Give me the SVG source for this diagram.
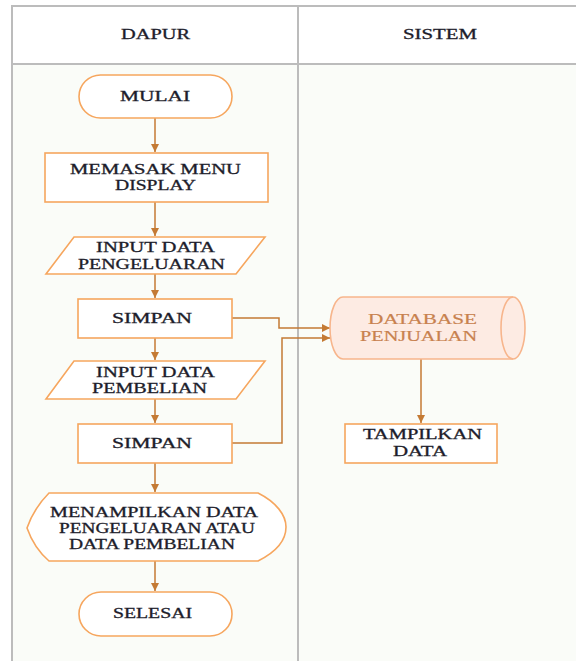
<svg xmlns="http://www.w3.org/2000/svg" width="576" height="661" viewBox="0 0 576 661">
<style>
.t{font-family:"Liberation Serif","Times New Roman",serif;font-size:14px;fill:#1d1d2b;stroke:#1d1d2b;stroke-width:0.3;text-anchor:middle}
.db{fill:#c8814e;stroke:#c8814e;stroke-width:0.2}
.n{fill:#ffffff;stroke:#f6a65e;stroke-width:1.6}
.c{fill:none;stroke:#c47a34;stroke-width:1.5}
.g{stroke:#bcbcbc;stroke-width:2;fill:none}
</style>
<defs>
<marker id="ah" viewBox="0 0 10 10" refX="10" refY="5" markerWidth="5.5" markerHeight="5.5" orient="auto" markerUnits="strokeWidth">
<path d="M0,0 L10,5 L0,10 Z" fill="#c47a34"/>
</marker>
</defs>
<g id="lanes">
<rect x="0" y="0" width="576" height="661" fill="#ffffff"/>
<rect x="12" y="64" width="564" height="597" fill="#fafcf8"/>
<path class="g" d="M12,661 V6 H576 M12,64 H576 M298,6 V661"/>
<text class="t" x="155.5" y="39" textLength="69" lengthAdjust="spacingAndGlyphs">DAPUR</text>
<text class="t" x="440" y="39" textLength="74" lengthAdjust="spacingAndGlyphs">SISTEM</text>
</g>
<g id="connectors">
<path class="c" d="M155,118 V152" marker-end="url(#ah)"/>
<path class="c" d="M155,202 V236" marker-end="url(#ah)"/>
<path class="c" d="M155,274 V298" marker-end="url(#ah)"/>
<path class="c" d="M155,338 V360" marker-end="url(#ah)"/>
<path class="c" d="M155,399 V423" marker-end="url(#ah)"/>
<path class="c" d="M155,463 V492" marker-end="url(#ah)"/>
<path class="c" d="M155,561 V591" marker-end="url(#ah)"/>
<path class="c" d="M232,318 H279 V328 H330" marker-end="url(#ah)"/>
<path class="c" d="M232,443 H282 V338 H330" marker-end="url(#ah)"/>
<path class="c" d="M421,359 V423" marker-end="url(#ah)"/>
</g>
<g id="mulai">
<rect class="n" x="79" y="75" width="153" height="43" rx="21.5"/>
<text class="t" x="155" y="101" textLength="70" lengthAdjust="spacingAndGlyphs">MULAI</text>
</g>
<g id="memasak">
<rect class="n" x="45" y="153" width="223" height="49"/>
<text class="t" x="155.5" y="174" textLength="171" lengthAdjust="spacingAndGlyphs">MEMASAK MENU</text>
<text class="t" x="155.5" y="190" textLength="81" lengthAdjust="spacingAndGlyphs">DISPLAY</text>
</g>
<g id="input-pengeluaran">
<polygon class="n" points="74,237 265,237 236,274 46,274"/>
<text class="t" x="155.5" y="252" textLength="119" lengthAdjust="spacingAndGlyphs">INPUT DATA</text>
<text class="t" x="151.5" y="269" textLength="147" lengthAdjust="spacingAndGlyphs">PENGELUARAN</text>
</g>
<g id="simpan1">
<rect class="n" x="78" y="299" width="154" height="39"/>
<text class="t" x="152" y="323" textLength="80" lengthAdjust="spacingAndGlyphs">SIMPAN</text>
</g>
<g id="input-pembelian">
<polygon class="n" points="74,361 265,361 236,399 46,399"/>
<text class="t" x="155.5" y="377" textLength="119" lengthAdjust="spacingAndGlyphs">INPUT DATA</text>
<text class="t" x="149.5" y="393" textLength="115" lengthAdjust="spacingAndGlyphs">PEMBELIAN</text>
</g>
<g id="simpan2">
<rect class="n" x="78" y="424" width="154" height="39"/>
<text class="t" x="152" y="448" textLength="80" lengthAdjust="spacingAndGlyphs">SIMPAN</text>
</g>
<g id="menampilkan">
<path class="n" d="M49,493 L258,493 C276,502 286,515 286,527 C286,540 276,552 258,561 L49,561 Q34,548 27,528 Q34,508 49,493 Z"/>
<text class="t" x="154" y="517" textLength="208" lengthAdjust="spacingAndGlyphs">MENAMPILKAN DATA</text>
<text class="t" x="157" y="533" textLength="196" lengthAdjust="spacingAndGlyphs">PENGELUARAN ATAU</text>
<text class="t" x="152" y="549" textLength="166" lengthAdjust="spacingAndGlyphs">DATA PEMBELIAN</text>
</g>
<g id="selesai">
<rect class="n" x="79" y="592" width="153" height="44" rx="22"/>
<text class="t" x="152.5" y="618" textLength="79" lengthAdjust="spacingAndGlyphs">SELESAI</text>
</g>
<g id="database">
<path d="M343,297 L513,297 A12,31 0 0 1 513,359 L343,359 A13,31 0 0 1 343,297 Z" fill="#fdebe3" stroke="#f7b58c" stroke-width="1.6"/>
<path d="M513,297 A12,31 0 0 0 513,359" fill="none" stroke="#f7b58c" stroke-width="1.6"/>
<text class="t db" x="422.5" y="324" textLength="109" lengthAdjust="spacingAndGlyphs">DATABASE</text>
<text class="t db" x="418.5" y="341" textLength="117" lengthAdjust="spacingAndGlyphs">PENJUALAN</text>
</g>
<g id="tampilkan">
<rect class="n" x="345" y="424" width="152" height="39"/>
<text class="t" x="422.5" y="439" textLength="119" lengthAdjust="spacingAndGlyphs">TAMPILKAN</text>
<text class="t" x="420" y="456" textLength="54" lengthAdjust="spacingAndGlyphs">DATA</text>
</g>
</svg>
